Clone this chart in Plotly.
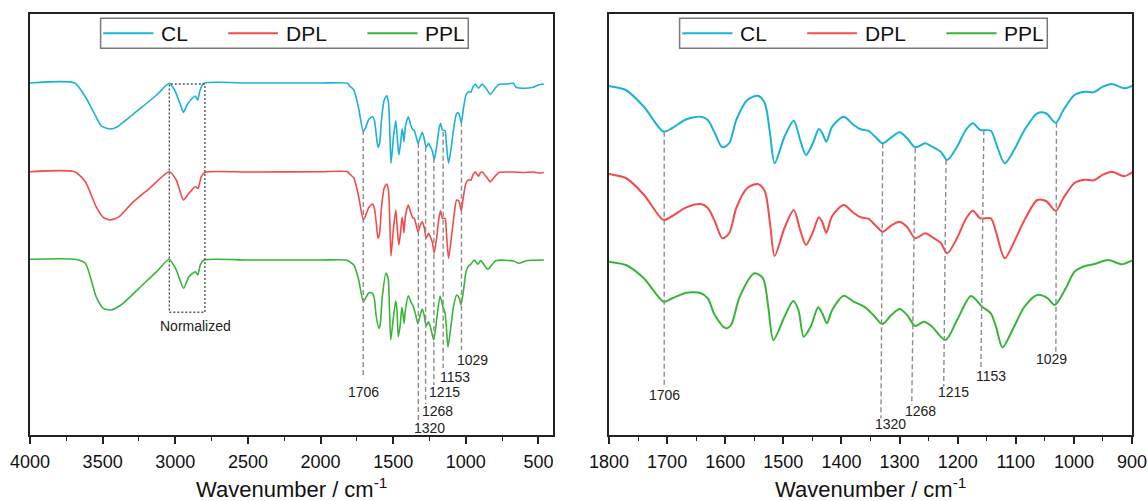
import plotly.graph_objects as go

# ---------------- data (arbitrary transmittance units) -------------
series_names = ["CL", "DPL", "PPL"]
series_colors = ["#1AB2D8", "#F24B4B", "#38B438"]

cl_wn = [4000, 3693, 3619, 3558, 3509, 3447, 3398, 3325, 3226, 3128,
         3042, 3005, 2968, 2944, 2919, 2883, 2863, 2846, 2829, 2804,
         2500, 2000, 1814,
         1800, 1771, 1740, 1706, 1691, 1667, 1642, 1630, 1618, 1605,
         1593, 1581, 1562, 1544, 1532, 1523, 1515, 1498, 1482, 1471,
         1461, 1449, 1439, 1433, 1426, 1416, 1396, 1379, 1367, 1354,
         1342, 1329, 1314, 1300, 1287, 1273, 1256, 1244, 1229, 1218,
         1201, 1186, 1174, 1161, 1143, 1134, 1119, 1103, 1085, 1063,
         1048, 1031, 1018, 999, 981, 966, 950, 935, 913, 900,
         888, 856, 832, 793, 770, 721, 672, 654, 598, 537, 500, 463]
cl_t = [352, 352, 338.3, 321.7, 309, 306, 308.3, 316.7, 328.3, 340,
        351.7, 345, 331.7, 322.7, 330, 336.7, 339, 335, 345, 351.7,
        352, 352, 351.7,
        349, 345, 328.3, 303.3, 307, 315.7, 318.3, 315, 302, 287.7,
        292, 315, 335, 339.3, 332, 302, 271.7, 298.3, 314.3, 295,
        280, 292, 306, 302, 293.3, 308.3, 318.3, 310, 305.7, 304.3,
        298.3, 291.7, 297.7, 302.7, 296.7, 287.7, 291.7, 288.3, 283.3, 275,
        288.3, 305, 311.7, 305, 304.3, 291.7, 271.7, 285, 305, 321.7,
        321.7, 312.3, 325, 340, 343.3, 342.7, 348.3, 351, 346.7, 349,
        351, 345.7, 340.7, 347.7, 350.7, 351, 351.7, 347.7, 346.7, 347.7, 350, 351]

dpl_wn = [4000, 3693, 3619, 3545, 3496, 3447, 3386, 3300, 3177, 3042,
          2993, 2944, 2906, 2862, 2843, 2821, 2796, 2500, 2000, 1814,
          1800, 1771, 1740, 1706, 1691, 1667, 1642, 1630, 1618, 1605,
          1593, 1581, 1562, 1544, 1532, 1523, 1515, 1498, 1482, 1471,
          1461, 1449, 1439, 1433, 1426, 1416, 1396, 1379, 1367, 1354,
          1342, 1329, 1314, 1300, 1287, 1273, 1256, 1244, 1229, 1218,
          1201, 1186, 1174, 1161, 1143, 1134, 1119, 1103, 1085, 1063,
          1048, 1031, 1018, 999, 981, 966, 950, 935, 913, 900,
          888, 856, 832, 793, 770, 721, 672, 598, 537, 500, 463]
dpl_t = [263.3, 263.3, 253.3, 228.3, 217.7, 215, 218.3, 231.7, 246.7, 263.3,
         255, 235, 241.7, 248.3, 246.7, 258.3, 262.7, 263, 263.3, 263.3,
         261, 257, 240.3, 215, 219, 227.7, 231, 227, 214, 196.7,
         202, 227, 247, 251, 244, 212, 179, 207, 225, 205,
         190, 203, 217.7, 213, 202.3, 219, 230, 222, 217.7, 216.3,
         210, 203.3, 209.7, 213.3, 208, 196.7, 201.7, 198, 192, 181.7,
         197, 216, 224.3, 216.7, 216.7, 203, 176.7, 193, 215, 235,
         234, 224.3, 237, 252, 255.3, 254.7, 260.3, 263.3, 258.7, 262.3,
         263, 257.7, 253.3, 259.7, 262.7, 263, 263, 262.5, 263, 262, 262.5]

ppl_wn = [4000, 3693, 3619, 3545, 3496, 3447, 3374, 3226, 3128, 3042,
          2993, 2943, 2906, 2862, 2845, 2828, 2803, 2500, 2000, 1826,
          1800, 1771, 1740, 1706, 1691, 1667, 1642, 1630, 1618, 1599,
          1590, 1575, 1550, 1535, 1526, 1517, 1498, 1483, 1474, 1465,
          1453, 1440, 1433, 1425, 1416, 1396, 1379, 1361, 1345, 1330,
          1314, 1300, 1287, 1273, 1258, 1244, 1221, 1201, 1177, 1158,
          1143, 1134, 1123, 1103, 1085, 1063, 1045, 1033, 1014, 999,
          981, 966, 941, 917, 900,
          893, 848, 794, 671, 635, 585, 463]
ppl_t = [175.7, 175.7, 171.7, 138.3, 126.7, 125, 130, 150, 163.3, 175.7,
         165, 146.7, 158.3, 163.3, 160, 170, 175, 175, 175, 175,
         173.3, 170, 156.7, 133.3, 136.7, 142.3, 141.7, 136.7, 120, 106.7,
         110, 138.3, 161.7, 156.7, 128.3, 95, 118.3, 134, 125, 98.3,
         108.3, 127.7, 121.7, 111.7, 125, 139.3, 133.3, 128.3, 120, 111,
         120, 126, 120, 109, 113.3, 108.3, 95, 115, 139, 128.3,
         121.7, 108.3, 87.7, 108.3, 128.3, 140, 136.7, 130, 146.7, 163.3,
         169, 170.7, 175, 170.7, 174.3,
         174, 165.7, 174.3, 174, 171.7, 174.3, 175]

series_wn = [cl_wn, dpl_wn, ppl_wn]
series_t = [cl_t, dpl_t, ppl_t]
for a, b in zip(series_wn, series_t):
    assert len(a) == len(b), (len(a), len(b))

# marked bands (labels) and the dashed guide lines
band_labels = ["1706", "1320", "1268", "1215", "1153", "1029"]
left_guide_wn = [1706, 1327, 1277, 1220, 1156, 1030]
left_guide_top = [305, 292, 288.3, 277, 303.3, 313.3]
left_guide_bottom = [56.7, 15, 31, 50, 67, 85]
right_guide_top_wn = [1705, 1329, 1273, 1220, 1155, 1030]
right_guide_bot_wn = [1705, 1332, 1279, 1224, 1160, 1031]
right_guide_top = [303.3, 291.7, 286.7, 275, 305, 312.3]
right_guide_bottom = [48.3, 16.7, 30, 48.3, 66.7, 83.3]

# "Normalized" region box (wavenumber span, transmittance span)
norm_box_wn = [3041, 2796]
norm_box_t = [122.7, 351]

axis_title = "Wavenumber / cm<sup>-1</sup>"

# ---------------- layout constants -------------
W, H = 1148, 501
FONT = "Arial, 'Liberation Sans', Helvetica, sans-serif"
Y_RANGE = [0, 421]

fig = go.Figure()

for name, color, wn, t in zip(series_names, series_colors, series_wn, series_t):
    fig.add_trace(go.Scatter(x=wn, y=t, mode="lines", name=name, showlegend=False,
                             line=dict(color=color, width=1.6, shape="spline", smoothing=0.6),
                             xaxis="x", yaxis="y", hoverinfo="skip"))
    fig.add_trace(go.Scatter(x=wn, y=t, mode="lines", name=name, showlegend=False,
                             line=dict(color=color, width=2.0, shape="spline", smoothing=0.8),
                             xaxis="x2", yaxis="y2", hoverinfo="skip"))

shapes = []
annotations = []
GUIDE = dict(color="#8C8C8C", width=1.4, dash="5px,3px")

for wn, y0, y1 in zip(left_guide_wn, left_guide_top, left_guide_bottom):
    shapes.append(dict(type="line", xref="x", yref="y", x0=wn, x1=wn, y0=y0, y1=y1, line=GUIDE))
for x0, x1, y0, y1 in zip(right_guide_top_wn, right_guide_bot_wn, right_guide_top, right_guide_bottom):
    shapes.append(dict(type="line", xref="x2", yref="y2", x0=x0, x1=x1, y0=y0, y1=y1, line=GUIDE))

# label placements (x in wavenumber, y in axis units)
left_label_pos = [(1706, 43.3), (1247, 7.3), (1192, 24), (1146, 43.3), (1073, 58.3), (953, 75)]
right_label_pos = [(1705, 40), (1316, 10.7), (1264, 24), (1208, 42.7), (1143, 59.3), (1039, 75.7)]
for lab, (x, y) in zip(band_labels, left_label_pos):
    annotations.append(dict(xref="x", yref="y", x=x, y=y, text=lab, showarrow=False,
                            font=dict(family=FONT, size=14, color="#222")))
for lab, (x, y) in zip(band_labels, right_label_pos):
    annotations.append(dict(xref="x2", yref="y2", x=x, y=y, text=lab, showarrow=False,
                            font=dict(family=FONT, size=14, color="#222")))

# normalized box
shapes.append(dict(type="rect", xref="x", yref="y", x0=norm_box_wn[0], x1=norm_box_wn[1],
                   y0=norm_box_t[0], y1=norm_box_t[1],
                   line=dict(color="#555", width=1.4, dash="2px,2px")))
annotations.append(dict(xref="x", yref="y", x=2864, y=109, text="Normalized", showarrow=False,
                        font=dict(family=FONT, size=14, color="#222")))

# manual legends (one per panel)
LEG_BOX = (0.135, 0.838, 0.9185, 0.9898)
LEG_LINES = [(0.140, 0.236), (0.379, 0.474), (0.645, 0.741)]
LEG_TEXT_X = [0.246, 0.486, 0.752]
LEG_Y = 0.954
for xr, yr in (("x domain", "y domain"), ("x2 domain", "y2 domain")):
    shapes.append(dict(type="rect", xref=xr, yref=yr, x0=LEG_BOX[0], x1=LEG_BOX[1],
                       y0=LEG_BOX[2], y1=LEG_BOX[3], line=dict(color="#7a7a7a", width=1.5),
                       fillcolor="rgba(0,0,0,0)"))
    for name, color, (lx0, lx1), tx in zip(series_names, series_colors, LEG_LINES, LEG_TEXT_X):
        shapes.append(dict(type="line", xref=xr, yref=yr, x0=lx0, x1=lx1, y0=LEG_Y, y1=LEG_Y,
                           line=dict(color=color, width=2)))
        annotations.append(dict(xref=xr, yref=yr, x=tx, y=LEG_Y, text=name, showarrow=False,
                                xanchor="left", yanchor="middle",
                                font=dict(family=FONT, size=21, color="#111")))
    # axis title placed under each panel
    annotations.append(dict(xref=xr, yref=yr, x=0.5, y=-0.127, text=axis_title, showarrow=False,
                            xanchor="center", yanchor="middle",
                            font=dict(family=FONT, size=22, color="#111")))

xcommon = dict(showgrid=False, zeroline=False, showline=True, linecolor="#222", linewidth=1.5,
               mirror=True, ticks="outside", ticklen=7, tickwidth=1.5, tickcolor="#222",
               ticklabelstandoff=3, automargin=False,
               tickfont=dict(family=FONT, size=18, color="#111"))
ycommon = dict(showgrid=False, zeroline=False, showline=True, linecolor="#222", linewidth=1.5,
               mirror=True, ticks="", showticklabels=False, range=Y_RANGE, automargin=False)

fig.update_layout(
    width=W, height=H,
    margin=dict(l=30, r=16, t=14, b=66),
    paper_bgcolor="white", plot_bgcolor="white",
    showlegend=False,
    xaxis=dict(domain=[0, 0.47459], range=[4000, 400], tickvals=[4000, 3500, 3000, 2500, 2000, 1500, 1000, 500],
               minor=dict(tickvals=[3750, 3250, 2750, 2250, 1750, 1250, 750], ticks="outside", ticklen=4,
                          tickwidth=1.2, tickcolor="#222"),
               anchor="y", **xcommon),
    yaxis=dict(domain=[0, 1], anchor="x", **ycommon),
    xaxis2=dict(domain=[0.52541, 1], range=[1800, 900], dtick=100,
                minor=dict(dtick=50, ticks="outside", ticklen=4, tickwidth=1.2, tickcolor="#222"),
                anchor="y2", **xcommon),
    yaxis2=dict(domain=[0, 1], anchor="x2", **ycommon),
    shapes=shapes,
    annotations=annotations,
)

fig.write_html("out.html")
